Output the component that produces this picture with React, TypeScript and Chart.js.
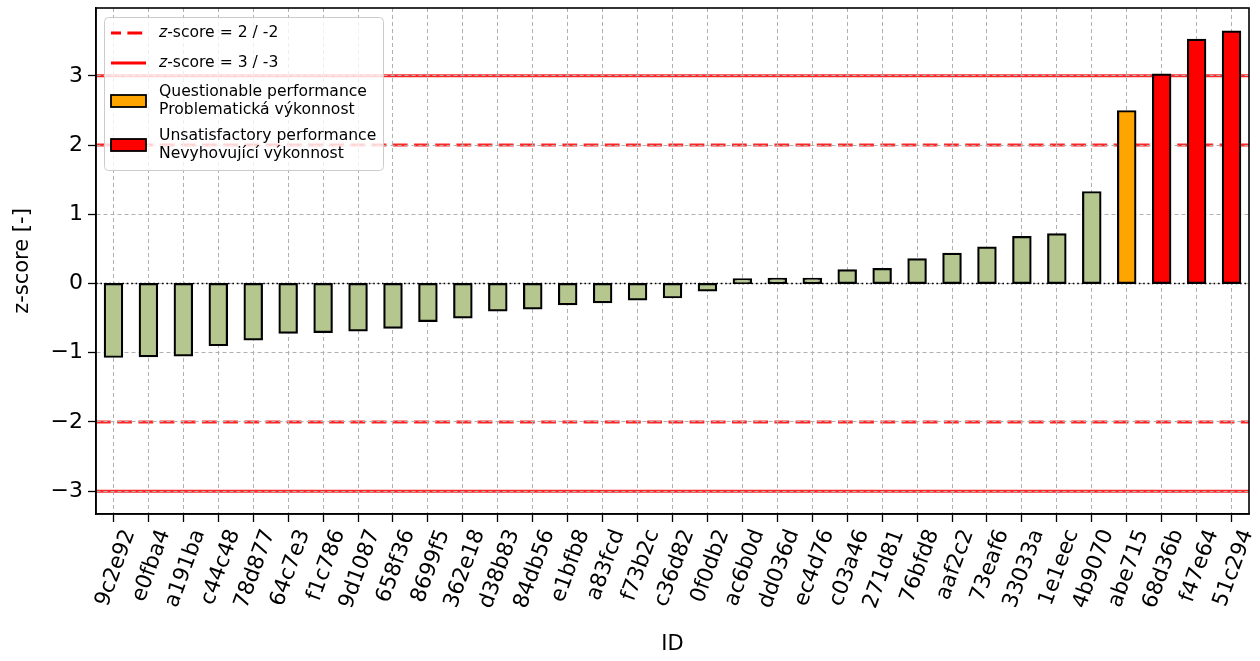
import React, { useEffect, useRef } from 'react';
import { Chart, registerables } from 'chart.js';

Chart.register(...registerables);

const categories = [
  '9c2e92', 'e0fba4', 'a191ba', 'c44c48', '78d877', '64c7e3', 'f1c786', '9d1087',
  '658f36', '8699f5', '362e18', 'd38b83', '84db56', 'e1bfb8', 'a83fcd', 'f73b2c',
  'c36d82', '0f0db2', 'ac6b0d', 'dd036d', 'ec4d76', 'c03a46', '271d81', '76bfd8',
  'aaf2c2', '73eaf6', '33033a', '1e1eec', '4b9070', 'abe715', '68d36b', 'f47e64', '51c294',
];

const zScores = [
  -1.06, -1.05, -1.04, -0.89, -0.81, -0.71, -0.70, -0.68,
  -0.64, -0.54, -0.49, -0.39, -0.36, -0.30, -0.27, -0.23,
  -0.20, -0.10, 0.06, 0.07, 0.07, 0.19, 0.21, 0.35,
  0.43, 0.52, 0.67, 0.71, 1.32, 2.49, 3.02, 3.52, 3.64,
];

const yTickValues = [-3, -2, -1, 0, 1, 2, 3];
const warningLevels = [2, -2];
const actionLevels = [3, -3];
const yMin = -3.33;
const yMax = 3.98;

const legendWarning = ['z', '-score = 2 / -2'];
const legendAction = ['z', '-score = 3 / -3'];
const legendQuestionable = ['Questionable performance', 'Problematická výkonnost'];
const legendUnsatisfactory = ['Unsatisfactory performance', 'Nevyhovující výkonnost'];

const FONT = '"DejaVu Sans", "Liberation Sans", sans-serif';
const GREEN = '#b5c78f';
const ORANGE = '#ffa500';
const RED = '#ff0000';
const GRID = '#b0b0b0';

function barColor(v: number) {
  const a = Math.abs(v);
  if (a >= 3) return RED;
  if (a >= 2) return ORANGE;
  return GREEN;
}

const overlayPlugin = {
  id: 'overlay',
  beforeDraw(chart: any) {
    const { ctx, chartArea: a, scales } = chart;
    const y = scales.y;
    ctx.save();
    ctx.beginPath();
    ctx.rect(a.left, a.top, a.right - a.left, a.bottom - a.top);
    ctx.clip();
    ctx.strokeStyle = 'rgba(255,0,0,0.85)';
    ctx.lineWidth = 3;
    ctx.setLineDash([14.8, 6.4]);
    warningLevels.forEach((v) => {
      const py = y.getPixelForValue(v);
      ctx.beginPath();
      ctx.moveTo(a.left, py);
      ctx.lineTo(a.right, py);
      ctx.stroke();
    });
    ctx.setLineDash([]);
    actionLevels.forEach((v) => {
      const py = y.getPixelForValue(v);
      ctx.beginPath();
      ctx.moveTo(a.left, py);
      ctx.lineTo(a.right, py);
      ctx.stroke();
    });
    ctx.restore();
  },
  beforeDatasetsDraw(chart: any) {
    const { ctx, chartArea: a, scales } = chart;
    const py = scales.y.getPixelForValue(0);
    ctx.save();
    ctx.strokeStyle = '#000';
    ctx.lineWidth = 1.3;
    ctx.setLineDash([1.6, 2.8]);
    ctx.beginPath();
    ctx.moveTo(a.left, py);
    ctx.lineTo(a.right, py);
    ctx.stroke();
    ctx.restore();
  },
  afterDatasetsDraw(chart: any) {
    const { ctx, chartArea: a } = chart;
    ctx.save();
    ctx.strokeStyle = '#000';
    ctx.lineWidth = 1.6;
    ctx.setLineDash([]);
    ctx.strokeRect(a.left, a.top, a.right - a.left, a.bottom - a.top);
    ctx.restore();
  },
  afterDraw(chart: any) {
    const { ctx, chartArea: a } = chart;
    const bx = a.left + 8.5;
    const by = a.top + 9.5;
    const bw = 279;
    const bh = 153;
    const r = 4;
    ctx.save();
    ctx.beginPath();
    ctx.moveTo(bx + r, by);
    ctx.lineTo(bx + bw - r, by);
    ctx.arcTo(bx + bw, by, bx + bw, by + r, r);
    ctx.lineTo(bx + bw, by + bh - r);
    ctx.arcTo(bx + bw, by + bh, bx + bw - r, by + bh, r);
    ctx.lineTo(bx + r, by + bh);
    ctx.arcTo(bx, by + bh, bx, by + bh - r, r);
    ctx.lineTo(bx, by + r);
    ctx.arcTo(bx, by, bx + r, by, r);
    ctx.closePath();
    ctx.fillStyle = 'rgba(255,255,255,0.8)';
    ctx.fill();
    ctx.strokeStyle = '#cccccc';
    ctx.lineWidth = 1;
    ctx.stroke();

    const hx0 = a.left + 15;
    const hx1 = a.left + 50;
    const tx = a.left + 63;
    const fs = 15.6;
    ctx.textBaseline = 'middle';
    ctx.textAlign = 'left';
    ctx.fillStyle = '#000';

    const drawZ = (parts: string[], yy: number) => {
      ctx.font = `italic ${fs}px ${FONT}`;
      ctx.fillText(parts[0], tx, yy);
      const w = ctx.measureText(parts[0]).width;
      ctx.font = `${fs}px ${FONT}`;
      ctx.fillText(parts[1], tx + w, yy);
    };

    let yy = a.top + 25;
    ctx.strokeStyle = RED;
    ctx.lineWidth = 3;
    ctx.setLineDash([14.8, 6.4]);
    ctx.lineDashOffset = 4.8;
    ctx.beginPath();
    ctx.moveTo(hx0, yy);
    ctx.lineTo(hx1, yy);
    ctx.stroke();
    ctx.setLineDash([]);
    ctx.lineDashOffset = 0;
    drawZ(legendWarning, yy);

    yy = a.top + 55;
    ctx.beginPath();
    ctx.moveTo(hx0, yy);
    ctx.lineTo(hx1, yy);
    ctx.stroke();
    drawZ(legendAction, yy);

    const patch = (color: string, cy: number, lines: string[]) => {
      ctx.fillStyle = color;
      ctx.fillRect(hx0, cy - 6, hx1 - hx0, 12);
      ctx.strokeStyle = '#000';
      ctx.lineWidth = 1.8;
      ctx.strokeRect(hx0, cy - 6, hx1 - hx0, 12);
      ctx.fillStyle = '#000';
      ctx.font = `${fs}px ${FONT}`;
      ctx.fillText(lines[0], tx, cy - 9.5);
      ctx.fillText(lines[1], tx, cy + 8.5);
    };
    patch(ORANGE, a.top + 93, legendQuestionable);
    patch(RED, a.top + 137, legendUnsatisfactory);
    ctx.restore();
  },
};

export default function App() {
  const canvasRef = useRef<HTMLCanvasElement | null>(null);

  useEffect(() => {
    if (!canvasRef.current) return;
    const chart = new Chart(canvasRef.current, {
      type: 'bar',
      data: {
        labels: categories,
        datasets: [
          {
            data: zScores,
            backgroundColor: zScores.map(barColor),
            borderColor: '#000',
            borderWidth: 2.2,
            borderSkipped: false,
            inflateAmount: 1,
            barPercentage: 0.5,
            categoryPercentage: 1,
          },
        ],
      },
      options: {
        responsive: false,
        animation: false,
        devicePixelRatio: 1,
        layout: { padding: { left: 0, right: 11, top: 8, bottom: 0 } },
        plugins: { legend: { display: false }, tooltip: { enabled: false } },
        scales: {
          x: {
            type: 'category',
            offset: true,
            grid: {
              display: true,
              offset: false,
              color: GRID,
              lineWidth: 1,
              drawTicks: true,
              tickLength: 8,
              tickColor: '#000',
              tickWidth: 1.3,
            },
            border: { display: true, color: '#000', width: 1.5, dash: [4, 3] },
            ticks: {
              autoSkip: false,
              minRotation: 70,
              maxRotation: 70,
              padding: 4,
              labelOffset: 16,
              color: '#000',
              font: { family: FONT, size: 21.5, lineHeight: 1.2 },
            },
            title: {
              display: true,
              text: 'ID',
              color: '#000',
              font: { family: FONT, size: 21, lineHeight: 1.2 },
              padding: { top: 0, bottom: 3.5 },
            },
            afterFit(scale: any) {
              scale.height = 147;
              scale.paddingLeft = 0;
              scale.paddingRight = 0;
            },
          },
          y: {
            type: 'linear',
            min: yMin,
            max: yMax,
            grid: {
              display: true,
              color: GRID,
              lineWidth: 1,
              drawTicks: true,
              tickLength: 8,
              tickColor: '#000',
              tickWidth: 1.3,
            },
            border: { display: true, color: '#000', width: 1.5, dash: [4, 3] },
            afterBuildTicks(scale: any) {
              scale.ticks = yTickValues.map((v) => ({ value: v }));
            },
            ticks: {
              padding: 5,
              color: '#000',
              font: { family: FONT, size: 22, lineHeight: 1.2 },
              callback: (v: any) => {
                const n = Number(v);
                return n < 0 ? '\u2212' + Math.abs(n) : String(n);
              },
            },
            title: {
              display: true,
              text: 'z-score [-]',
              color: '#000',
              font: { family: FONT, size: 21, lineHeight: 1.2 },
              padding: { top: 9.5, bottom: 0 },
            },
            afterFit(scale: any) {
              scale.width = 96;
              scale.paddingTop = 0;
              scale.paddingBottom = 0;
            },
          },
        },
      },
      plugins: [overlayPlugin],
    } as any);
    return () => chart.destroy();
  }, []);

  return (
    <div style={{ position: 'fixed', left: 0, top: 0, width: 1260, height: 661, background: '#fff' }}>
      <canvas ref={canvasRef} width={1260} height={661} style={{ display: 'block' }} />
    </div>
  );
}
